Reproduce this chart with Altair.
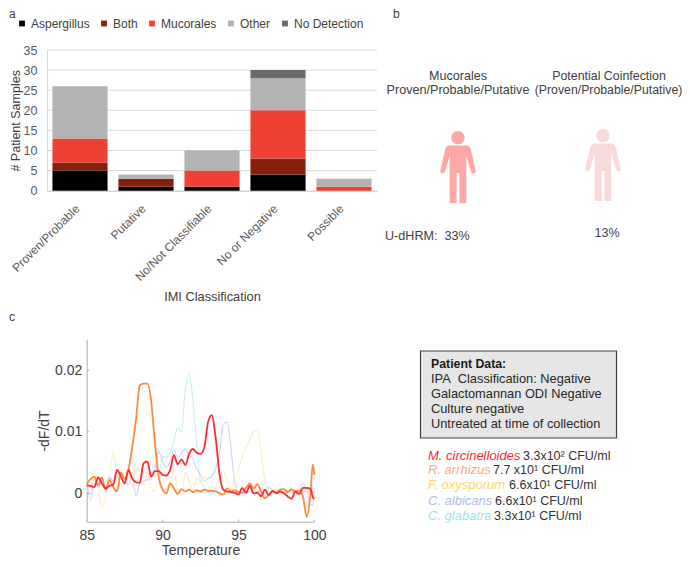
import altair as alt
import pandas as pd

FONT = "Liberation Sans"

# ---------- panel a ----------
categories = ["Proven/Probable", "Putative", "No/Not Classifiable", "No or Negative", "Possible"]
groups = ["Aspergillus", "Both", "Mucorales", "Other", "No Detection"]
group_colors = ["#000000", "#85200C", "#EE4135", "#B3B3B3", "#6E6A6A"]
aspergillus = [5, 1, 1, 4, 0]
both = [2, 2, 0, 4, 0]
mucorales = [6, 0, 4, 12, 1]
other = [13, 1, 5, 8, 2]
no_detection = [0, 0, 0, 2, 0]
grid_values = [5, 10, 15, 20, 25, 30, 35]

# ---------- panel c ----------
temperature = [85 + i * 0.25 for i in range(60)] + [99.9, 100]
circinelloides = [1.3,1.2,1.0,2.6, 1.6,0.8,1.2,1.4, 3.8,2.8,1.6,3.8, 2.4,1.8,1.7,4.9,
                  5.2,2.7,3.6,3.6, 3.0,2.9,3.8,6.2, 4.7,5.5,4.6,6.4, 7.2,6.6,6.4,7.4,
                  11.6,12.7,9.0,3.2, 0.6,0.3,0.2,0.1, -0.2,0.9,0.1,1.2, 0.0,0.1,-0.5,0.6,
                  -0.3,0.4,0.0,0.3, 0.0,-0.5,-0.9,0.3, -0.1,0.9,0.9,0.7, -0.6,-0.9]
arrhizus = [1.5,2.3,2.7,1.3, 2.6,0.6,2.2,1.0, 0.3,3.4,2.4,3.8, 7.5,12.0,17.5,17.8,
            17.8,15.0,8.0,2.6, 0.6,0.0,1.6,0.8, -0.1,0.7,0.3,0.6, 0.2,0.5,0.3,0.6,
            0.4,0.4,0.3,0.0, -0.2,0.8,0.3,0.5, 0.2,0.1,0.9,1.6, 0.8,1.5,0.2,-0.8,
            -0.2,0.3,0.2,0.6, 0.7,0.2,0.6,0.3, 0.4,-0.5,-3.8,0.0, 4.7,3.0]
oxysporum = [1.6,0.8,3.9,1.0, -2.2,-0.5,2.5,6.5, 3.5,1.5,2.8,4.5, 1.0,4.8,3.0,1.2,
             3.5,0.8,0.3,2.5, -0.5,1.0,1.8,3.8, 0.4,0.3,3.4,2.0, 0.5,2.5,1.8,2.8,
             1.2,0.5,1.0,2.5, 3.5,2.0,0.5,2.5, 4.0,6.0,7.5,8.8, 10.0,10.2,6.5,2.0,
             0.3,0.5,0.2,-0.2, 0.6,0.2,0.8,0.4, 0.8,0.2,0.5,0.3, 0.1,0.2]
albicans = [1.4,-0.2,2.4,1.0, 1.8,0.9,2.8,2.0, 2.6,3.2,2.0,1.4, 2.8,-0.5,1.6,2.0,
            2.2,3.2,4.0,6.8, 5.2,4.3,5.2,7.0, 5.8,6.5,7.3,6.2, 5.6,4.0,3.0,2.0,
            2.4,2.8,4.0,6.5, 11.2,11.6,7.5,2.0, 0.3,0.5,0.0,0.3, 0.0,0.3,0.4,-0.3,
            0.9,0.5,0.2,0.7, 0.3,0.5,0.6,-0.3, 0.6,1.6,0.5,-1.8, -2.0,0.3]
glabatra = [1.9,-1.2,1.2,3.0, 1.8,1.0,2.6,1.8, 3.0,2.4,3.2,2.6, 3.4,2.0,2.0,2.6,
            2.8,3.5,4.5,3.0, 6.0,5.8,6.5,8.5, 10.6,10.0,17.0,19.5, 15.0,8.0,2.0,1.0,
            0.2,-0.3,0.5,0.2, 0.7,0.3,0.1,0.2, 0.2,0.0,0.3,0.1, 0.5,0.3,0.2,0.4,
            1.2,0.4,0.6,0.1, 0.2,0.5,0.1,0.4, -0.3,0.5,0.7,0.2, 0.4,0.1]
x_ticks = [85, 90, 95, 100]
y_ticks = [0, 0.01, 0.02]

# ---------- text ----------
panel_b_titles = ["Mucorales", "Proven/Probable/Putative", "Potential Coinfection", "(Proven/Probable/Putative)"]
panel_b_values = ["U-dHRM:\u00a0\u00a033%", "13%"]
patient_lines = ["Patient Data:", "IPA\u00a0\u00a0Classification: Negative", "Galactomannan ODI Negative",
                 "Culture negative", "Untreated at time of collection"]
species = ["M. circinelloides", "R. arrhizus", "F. oxysporum", "C. albicans", "C. glabatra"]
loads = ["3.3x10² CFU/ml", "7.7 x10¹ CFU/ml", "6.6x10¹ CFU/ml", "6.6x10¹ CFU/ml", "3.3x10¹ CFU/ml"]
species_colors = ["#FF2B2B", "#FFA87A", "#FFD76E", "#AEBBF5", "#A6DFEA"]

OFF = 8  # page margin
W, H = 674, 551


def px(v):
    return v - OFF


def label(s, x, y, size=12, color="#404040", align="left", **kw):
    return alt.Chart(pd.DataFrame({"t": [s]})).mark_text(
        font=FONT, fontSize=size, color=color, align=align, baseline="middle", **kw
    ).encode(x=alt.value(px(x)), y=alt.value(px(y)), text="t:N")


# ---- bar panel
rows = []
for gi, (g, vals) in enumerate(zip(groups, [aspergillus, both, mucorales, other, no_detection])):
    for c, v in zip(categories, vals):
        rows.append({"cat": c, "group": g, "n": v, "ord": gi})
bar_df = pd.DataFrame(rows)

bar_y = alt.Scale(domain=[0, 35], range=[px(190.7), px(50)])
bar_x = alt.Scale(domain=categories, range=[px(47), px(377)], paddingInner=0.165, paddingOuter=0.0825)

grid = alt.Chart(pd.DataFrame({"v": grid_values})).mark_rule(color="#D9D9D9", strokeWidth=1).encode(
    x=alt.value(px(47)), x2=alt.value(px(377)),
    y=alt.Y("v:Q", scale=bar_y, axis=None),
)
bars = alt.Chart(bar_df).mark_bar(stroke=None).encode(
    x=alt.X("cat:N", scale=bar_x, sort=categories, axis=alt.Axis(
        orient="bottom", offset=px(190.7) - H, title="IMI Classification",
        titleFont=FONT, titleFontSize=12.8, titleFontWeight="normal", titleColor="#404040", titleY=100,
        labelFont=FONT, labelFontSize=12, labelColor="#595959", labelAngle=-45, labelAlign="right",
        labelBaseline="top", labelPadding=12, labelOffset=-6, labelOverlap=False,
        ticks=False, domainColor="#BFBFBF", grid=False)),
    y=alt.Y("n:Q", stack="zero", scale=bar_y, axis=alt.Axis(
        orient="left", offset=-px(47), values=[0] + grid_values, title="# Patient Samples",
        titleFont=FONT, titleFontSize=12.5, titleFontWeight="normal", titleColor="#404040",
        labelFont=FONT, labelFontSize=12.5, labelColor="#595959", labelPadding=10, titlePadding=1,
        ticks=False, domainColor="#D9D9D9", grid=False)),
    color=alt.Color("group:N", scale=alt.Scale(domain=groups, range=group_colors), legend=alt.Legend(
        orient="none", direction="horizontal", columns=5, title=None,
        legendX=px(16), legendY=px(17.5), symbolType="square", symbolSize=34, symbolStrokeWidth=0,
        labelFont=FONT, labelFontSize=12, labelColor="#404040", labelOffset=3, columnPadding=8, padding=0)),
    order=alt.Order("ord:Q"),
)
panel_a = alt.layer(grid, bars).resolve_axis(y="independent", x="independent")

# ---- melt panel
line_x = alt.Scale(domain=[85, 100], range=[px(86.7), px(314.3)], nice=False)
line_y = alt.Scale(domain=[-0.0046, 0.025], range=[px(521.7), px(339.3)], nice=False)
series = [
    (glabatra, "#C9EDF5", 1.1),
    (albicans, "#C9D3F8", 1.1),
    (oxysporum, "#FFEDC0", 1.1),
    (arrhizus, "#FF8A3C", 1.8),
    (circinelloides, "#FF2B30", 1.8),
]
line_layers = [
    alt.Chart(pd.DataFrame({"t": temperature, "v": [x / 1000 for x in vals]})).mark_line(
        color=col, strokeWidth=sw, interpolate="monotone"
    ).encode(
        x=alt.X("t:Q", scale=line_x, axis=alt.Axis(
            orient="bottom", offset=px(521.7) - H, values=x_ticks, title="Temperature",
            titleFont=FONT, titleFontSize=14, titleFontWeight="normal", titleColor="#404040", titlePadding=1,
            labelFont=FONT, labelFontSize=14, labelColor="#404040", labelPadding=7, labelFlush=False,
            ticks=False, domainColor="#B0B0B0", grid=False, format="d")) if i == 0 else alt.X("t:Q", scale=line_x, axis=None),
        y=alt.Y("v:Q", scale=line_y, axis=alt.Axis(
            orient="left", offset=-px(86.7), values=y_ticks, title="-dF/dT",
            titleFont=FONT, titleFontSize=14, titleFontWeight="normal", titleColor="#404040",
            titlePadding=3,
            labelFont=FONT, labelFontSize=14, labelColor="#404040", labelPadding=5, labelFlush=False,
            labelExpr="datum.value === 0 ? '0' : datum.label",
            ticks=False, domainColor="#B0B0B0", grid=False, format=".2f")) if i == 0 else alt.Y("v:Q", scale=line_y, axis=None),
    )
    for i, (vals, col, sw) in enumerate(series)
]
x_small_ticks = alt.Chart(pd.DataFrame({"t": x_ticks})).mark_rule(color="#B0B0B0").encode(
    x=alt.X("t:Q", scale=line_x, axis=None), y=alt.value(px(519.5)), y2=alt.value(px(521.7)))
y_small_ticks = alt.Chart(pd.DataFrame({"v": y_ticks})).mark_rule(color="#B0B0B0").encode(
    y=alt.Y("v:Q", scale=line_y, axis=None), x=alt.value(px(86.7)), x2=alt.value(px(89)))
panel_c = alt.layer(*line_layers, x_small_ticks, y_small_ticks).resolve_axis(x="independent", y="independent")

# ---- person pictograms
person_path = ("M0,-1 A0.185,0.185 0 1 1 0,-0.63 A0.185,0.185 0 1 1 0,-1 Z "
               "M-0.24,-0.6 L0.24,-0.6 Q0.33,-0.6 0.36,-0.47 L0.49,0.1 Q0.5,0.17 0.43,0.18 "
               "Q0.38,0.19 0.36,0.12 L0.23,-0.32 L0.23,1 L0.04,1 L0.04,0.17 L-0.04,0.17 L-0.04,1 "
               "L-0.23,1 L-0.23,-0.32 L-0.36,0.12 Q-0.38,0.19 -0.43,0.18 Q-0.5,0.17 -0.49,0.1 "
               "L-0.36,-0.47 Q-0.33,-0.6 -0.24,-0.6 Z")


def person(cx, cy, color):
    return alt.Chart(pd.DataFrame({"a": [1]})).mark_point(
        shape=person_path, filled=True, color=color, opacity=1, size=72 ** 2, strokeWidth=0
    ).encode(x=alt.value(px(cx)), y=alt.value(px(cy)))


# ---- patient box
box = alt.Chart(pd.DataFrame({"a": [1]})).mark_rect(fill="#E6E6E6", stroke="#404040", strokeWidth=1.2).encode(
    x=alt.value(px(420.5)), x2=alt.value(px(616.5)), y=alt.value(px(351)), y2=alt.value(px(438))
)

texts = [
    label("a", 9, 14, 12),
    label("b", 393, 14, 12),
    label("c", 9, 317, 12),
    label(panel_b_titles[0], 458, 76, 12.6, align="center"),
    label(panel_b_titles[1], 458, 90, 12.6, align="center"),
    label(panel_b_titles[2], 609, 76, 12.4, align="center"),
    label(panel_b_titles[3], 608.5, 90, 12.3, align="center"),
    label(panel_b_values[0], 385, 236, 12.6),
    label(panel_b_values[1], 607, 233, 12.6, align="center"),
    label(patient_lines[0], 431, 364, 12.3, color="#1A1A1A", fontWeight="bold"),
    label(patient_lines[1], 431, 379, 12.8, color="#262626"),
    label(patient_lines[2], 431, 394, 12.8, color="#262626"),
    label(patient_lines[3], 431, 409, 12.8, color="#262626"),
    label(patient_lines[4], 431, 424, 12.8, color="#262626"),
]
species_y = [456, 470, 485, 501, 515.5]
load_x = [523, 493, 509, 495, 494]
for s, l, c, y, lx in zip(species, loads, species_colors, species_y, load_x):
    texts.append(label(s, 428, y, 13, color=c, fontStyle="italic"))
    texts.append(label(l, lx, y, 12.5, color="#333333"))

chart = alt.layer(
    panel_a, panel_c, person(458, 167, "#FFA6A6"), person(603, 165, "#F8DADA"), box, *texts
).resolve_scale(x="independent", y="independent", color="independent").properties(
    width=W, height=H, padding=0, autosize=alt.AutoSizeParams(type="none"), background="white"
).configure_view(stroke=None)

chart.save("out.html", embed_options={"renderer": "svg", "actions": False})
